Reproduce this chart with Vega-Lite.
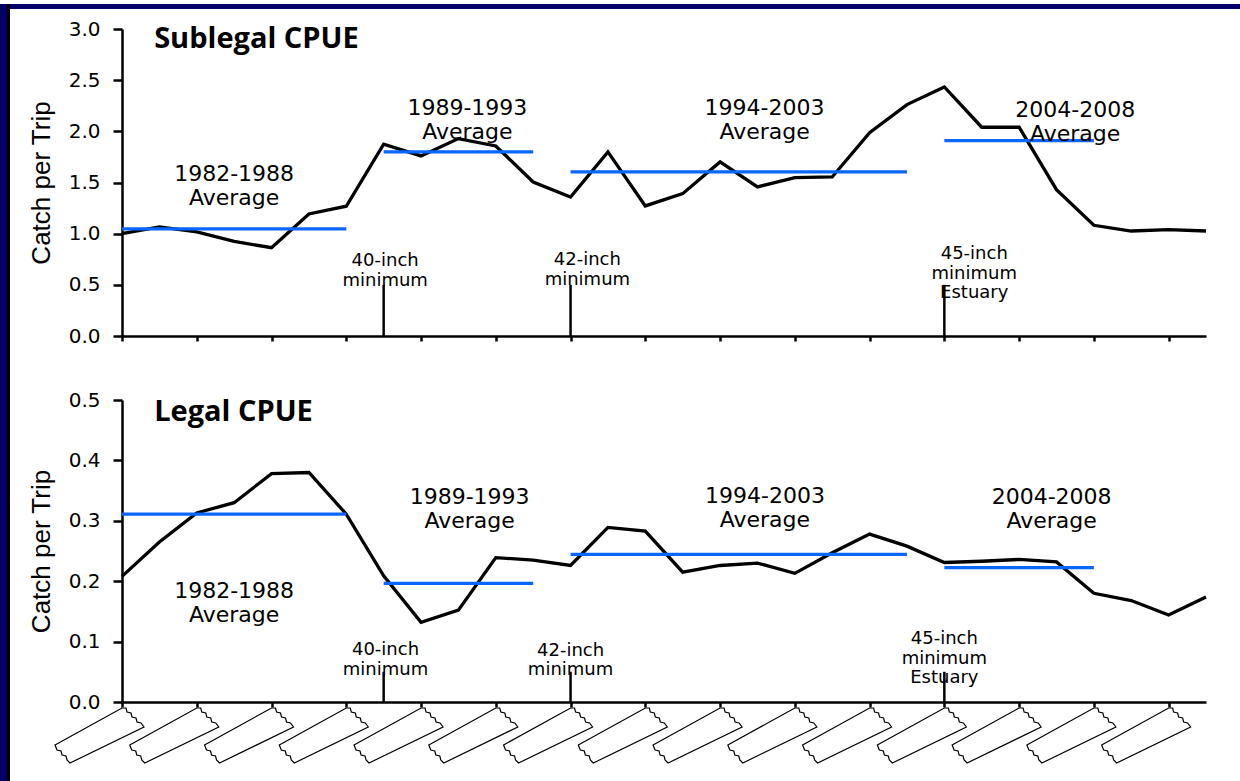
{
  "$schema": "https://vega.github.io/schema/vega-lite/v6.json",
  "background": "white",
  "padding": 0,
  "spacing": 0,
  "config": {
    "view": {"stroke": null},
    "axis": {
      "grid": false,
      "domainColor": "black",
      "domainWidth": 2.5,
      "tickColor": "black",
      "tickWidth": 2.5,
      "labelColor": "black",
      "labelFont": "DejaVu Sans",
      "labelFontSize": 20,
      "titleColor": "black"
    }
  },
  "datasets": {
    "cpue": [
      {"year": 1982, "sublegal": 1.0, "legal": 0.208},
      {"year": 1983, "sublegal": 1.066, "legal": 0.265},
      {"year": 1984, "sublegal": 1.017, "legal": 0.313},
      {"year": 1985, "sublegal": 0.925, "legal": 0.33},
      {"year": 1986, "sublegal": 0.863, "legal": 0.378},
      {"year": 1987, "sublegal": 1.193, "legal": 0.38},
      {"year": 1988, "sublegal": 1.268, "legal": 0.311},
      {"year": 1989, "sublegal": 1.874, "legal": 0.209},
      {"year": 1990, "sublegal": 1.76, "legal": 0.132},
      {"year": 1991, "sublegal": 1.929, "legal": 0.152},
      {"year": 1992, "sublegal": 1.857, "legal": 0.239},
      {"year": 1993, "sublegal": 1.505, "legal": 0.235},
      {"year": 1994, "sublegal": 1.359, "legal": 0.226},
      {"year": 1995, "sublegal": 1.799, "legal": 0.289},
      {"year": 1996, "sublegal": 1.271, "legal": 0.283},
      {"year": 1997, "sublegal": 1.391, "legal": 0.215},
      {"year": 1998, "sublegal": 1.701, "legal": 0.226},
      {"year": 1999, "sublegal": 1.457, "legal": 0.23},
      {"year": 2000, "sublegal": 1.548, "legal": 0.213},
      {"year": 2001, "sublegal": 1.554, "legal": 0.247},
      {"year": 2002, "sublegal": 1.987, "legal": 0.278},
      {"year": 2003, "sublegal": 2.261, "legal": 0.258},
      {"year": 2004, "sublegal": 2.434, "legal": 0.231},
      {"year": 2005, "sublegal": 2.04, "legal": 0.233},
      {"year": 2006, "sublegal": 2.04, "legal": 0.236},
      {"year": 2007, "sublegal": 1.43, "legal": 0.232},
      {"year": 2008, "sublegal": 1.082, "legal": 0.18},
      {"year": 2009, "sublegal": 1.026, "legal": 0.168},
      {"year": 2010, "sublegal": 1.039, "legal": 0.144},
      {"year": 2011, "sublegal": 1.026, "legal": 0.174}
    ],
    "averages": [
      {"panel": "Sublegal", "start": 1982, "end": 1988, "avg": 1.046},
      {"panel": "Sublegal", "start": 1989, "end": 1993, "avg": 1.8},
      {"panel": "Sublegal", "start": 1994, "end": 2003, "avg": 1.603},
      {"panel": "Sublegal", "start": 2004, "end": 2008, "avg": 1.91},
      {"panel": "Legal", "start": 1982, "end": 1988, "avg": 0.311},
      {"panel": "Legal", "start": 1989, "end": 1993, "avg": 0.1965},
      {"panel": "Legal", "start": 1994, "end": 2003, "avg": 0.2445},
      {"panel": "Legal", "start": 2004, "end": 2008, "avg": 0.2224}
    ],
    "markers": [
      {"year": 1989, "rule": "40-inch minimum"},
      {"year": 1994, "rule": "42-inch minimum"},
      {"year": 2004, "rule": "45-inch minimum Estuary"}
    ],
    "labels": [
      {"panel": "Sublegal", "kind": "period", "text": "1982-1988\nAverage", "year": 1985.0, "value": 1.58},
      {"panel": "Sublegal", "kind": "period", "text": "1989-1993\nAverage", "year": 1991.24, "value": 2.23},
      {"panel": "Sublegal", "kind": "period", "text": "1994-2003\nAverage", "year": 1999.19, "value": 2.23},
      {"panel": "Sublegal", "kind": "period", "text": "2004-2008\nAverage", "year": 2007.5, "value": 2.21},
      {"panel": "Sublegal", "kind": "rule", "text": "40-inch\nminimum", "year": 1989.04, "value": 0.73},
      {"panel": "Sublegal", "kind": "rule", "text": "42-inch\nminimum", "year": 1994.45, "value": 0.74},
      {"panel": "Sublegal", "kind": "rule", "text": "45-inch\nminimum\nEstuary", "year": 2004.8, "value": 0.8},
      {"panel": "Sublegal", "kind": "title", "text": "Sublegal CPUE", "year": 1982.86, "value": 2.9},
      {"panel": "Legal", "kind": "period", "text": "1982-1988\nAverage", "year": 1985.0, "value": 0.184},
      {"panel": "Legal", "kind": "period", "text": "1989-1993\nAverage", "year": 1991.3, "value": 0.339},
      {"panel": "Legal", "kind": "period", "text": "1994-2003\nAverage", "year": 1999.2, "value": 0.341},
      {"panel": "Legal", "kind": "period", "text": "2004-2008\nAverage", "year": 2006.87, "value": 0.34},
      {"panel": "Legal", "kind": "rule", "text": "40-inch\nminimum", "year": 1989.05, "value": 0.086},
      {"panel": "Legal", "kind": "rule", "text": "42-inch\nminimum", "year": 1994.0, "value": 0.085},
      {"panel": "Legal", "kind": "rule", "text": "45-inch\nminimum\nEstuary", "year": 2004.0, "value": 0.1035},
      {"panel": "Legal", "kind": "title", "text": "Legal CPUE", "year": 1982.86, "value": 0.48}
    ],
    "blank": [{"b": ""}]
  },
  "hconcat": [
    {
      "data": {"name": "blank"},
      "width": 7, "height": 781,
      "view": {"fill": "#000066", "stroke": null},
      "mark": {"type": "text", "text": ""},
      "encoding": {}
    },
    {
      "data": {"name": "blank"},
      "width": 3, "height": 781,
      "view": {"fill": "#000000", "stroke": null},
      "mark": {"type": "text", "text": ""},
      "encoding": {}
    },
    {
      "spacing": 7,
      "vconcat": [
        {
          "data": {"name": "blank"},
          "width": 1230, "height": 5,
          "view": {"fill": "#000066", "stroke": null},
          "mark": {"type": "text", "text": ""},
          "encoding": {}
        },
        {
          "spacing": 17,
          "hconcat": [
            {
              "data": {"name": "blank"},
              "width": 1, "height": 1,
              "mark": {"type": "text", "text": ""},
              "encoding": {}
            },
            {
              "spacing": 44,
              "vconcat": [
                {
                  "width": 1084,
                  "height": 307,
                  "layer": [
                    {
                      "data": {"name": "cpue"},
                      "mark": {"type": "line", "color": "black", "strokeWidth": 3.3},
                      "encoding": {
                        "x": {"field": "year", "type": "quantitative",
                          "scale": {"domain": [1982, 2011], "nice": false, "zero": false},
                          "axis": {"title": null, "labels": false, "values": [1982,1984,1986,1988,1990,1992,1994,1996,1998,2000,2002,2004,2006,2008,2010], "tickSize": 5}},
                        "y": {"field": "sublegal", "type": "quantitative",
                          "scale": {"domain": [0, 3], "nice": false},
                          "axis": {"title": "Catch per Trip", "values": [0,0.5,1,1.5,2,2.5,3], "format": ".1f", "tickSize": 9, "labelPadding": 13, "titlePadding": 14, "titleFont": "Liberation Sans", "titleFontSize": 26, "titleFontWeight": "normal"}}
                      }
                    },
                    {
                      "data": {"name": "averages"},
                      "transform": [{"filter": "datum.panel === 'Sublegal'"}],
                      "mark": {"type": "rule", "color": "#0a66ff", "strokeWidth": 3.3},
                      "encoding": {
                        "x": {"field": "start", "type": "quantitative"},
                        "x2": {"field": "end"},
                        "y": {"field": "avg", "type": "quantitative"}
                      }
                    },
                    {
                      "data": {"name": "markers"},
                      "mark": {"type": "rule", "color": "black", "strokeWidth": 2.5},
                      "encoding": {
                        "x": {"field": "year", "type": "quantitative"},
                        "y": {"datum": 0},
                        "y2": {"datum": 0.5}
                      }
                    },
                    {
                      "data": {"name": "labels"},
                      "transform": [{"filter": "datum.panel === 'Sublegal' && datum.kind === 'period'"}],
                      "mark": {"type": "text", "font": "DejaVu Sans", "fontSize": 22, "lineBreak": "\n", "lineHeight": 24, "align": "center", "baseline": "middle", "color": "black"},
                      "encoding": {
                        "x": {"field": "year", "type": "quantitative"},
                        "y": {"field": "value", "type": "quantitative"},
                        "text": {"field": "text"}
                      }
                    },
                    {
                      "data": {"name": "labels"},
                      "transform": [{"filter": "datum.panel === 'Sublegal' && datum.kind === 'rule'"}],
                      "mark": {"type": "text", "font": "DejaVu Sans", "fontSize": 18, "lineBreak": "\n", "lineHeight": 19.5, "align": "center", "baseline": "middle", "color": "black"},
                      "encoding": {
                        "x": {"field": "year", "type": "quantitative"},
                        "y": {"field": "value", "type": "quantitative"},
                        "text": {"field": "text"}
                      }
                    },
                    {
                      "data": {"name": "labels"},
                      "transform": [{"filter": "datum.panel === 'Sublegal' && datum.kind === 'title'"}],
                      "mark": {"type": "text", "font": "Open Sans", "fontWeight": "bold", "fontSize": 29, "align": "left", "baseline": "middle", "color": "black"},
                      "encoding": {
                        "x": {"field": "year", "type": "quantitative"},
                        "y": {"field": "value", "type": "quantitative"},
                        "text": {"field": "text"}
                      }
                    }
                  ]
                },
                {
                  "width": 1084,
                  "height": 302,
                  "layer": [
                    {
                      "data": {"name": "cpue"},
                      "mark": {"type": "line", "color": "black", "strokeWidth": 3.3},
                      "encoding": {
                        "x": {"field": "year", "type": "quantitative",
                          "scale": {"domain": [1982, 2011], "nice": false, "zero": false},
                          "axis": {"title": null, "labels": false, "values": [1982,1984,1986,1988,1990,1992,1994,1996,1998,2000,2002,2004,2006,2008,2010], "tickSize": 5}},
                        "y": {"field": "legal", "type": "quantitative",
                          "scale": {"domain": [0, 0.5], "nice": false},
                          "axis": {"title": "Catch per Trip", "values": [0,0.1,0.2,0.3,0.4,0.5], "format": ".1f", "tickSize": 9, "labelPadding": 13, "titlePadding": 14, "titleFont": "Liberation Sans", "titleFontSize": 26, "titleFontWeight": "normal"}}
                      }
                    },
                    {
                      "data": {"name": "averages"},
                      "transform": [{"filter": "datum.panel === 'Legal'"}],
                      "mark": {"type": "rule", "color": "#0a66ff", "strokeWidth": 3.3},
                      "encoding": {
                        "x": {"field": "start", "type": "quantitative"},
                        "x2": {"field": "end"},
                        "y": {"field": "avg", "type": "quantitative"}
                      }
                    },
                    {
                      "data": {"name": "markers"},
                      "mark": {"type": "rule", "color": "black", "strokeWidth": 2.5},
                      "encoding": {
                        "x": {"field": "year", "type": "quantitative"},
                        "y": {"datum": 0},
                        "y2": {"datum": 0.05}
                      }
                    },
                    {
                      "data": {"name": "labels"},
                      "transform": [{"filter": "datum.panel === 'Legal' && datum.kind === 'period'"}],
                      "mark": {"type": "text", "font": "DejaVu Sans", "fontSize": 22, "lineBreak": "\n", "lineHeight": 24, "align": "center", "baseline": "middle", "color": "black"},
                      "encoding": {
                        "x": {"field": "year", "type": "quantitative"},
                        "y": {"field": "value", "type": "quantitative"},
                        "text": {"field": "text"}
                      }
                    },
                    {
                      "data": {"name": "labels"},
                      "transform": [{"filter": "datum.panel === 'Legal' && datum.kind === 'rule'"}],
                      "mark": {"type": "text", "font": "DejaVu Sans", "fontSize": 18, "lineBreak": "\n", "lineHeight": 19.5, "align": "center", "baseline": "middle", "color": "black"},
                      "encoding": {
                        "x": {"field": "year", "type": "quantitative"},
                        "y": {"field": "value", "type": "quantitative"},
                        "text": {"field": "text"}
                      }
                    },
                    {
                      "data": {"name": "labels"},
                      "transform": [{"filter": "datum.panel === 'Legal' && datum.kind === 'title'"}],
                      "mark": {"type": "text", "font": "Open Sans", "fontWeight": "bold", "fontSize": 29, "align": "left", "baseline": "middle", "color": "black"},
                      "encoding": {
                        "x": {"field": "year", "type": "quantitative"},
                        "y": {"field": "value", "type": "quantitative"},
                        "text": {"field": "text"}
                      }
                    },
                    {
                      "data": {"name": "cpue"},
                      "transform": [{"filter": "datum.year % 2 === 0"}],
                      "mark": {"type": "point", "shape": "M0,6L4,6L5,10L9,11L10,15L14,16L15,20L19,21L22,25L-52,61L-55,58L-56,54L-60,53L-61,49L-65,48L-67,43Z", "size": 4, "filled": false, "color": "black", "strokeWidth": 1.2, "opacity": 1},
                      "encoding": {
                        "x": {"field": "year", "type": "quantitative"},
                        "y": {"datum": 0}
                      }
                    }
                  ]
                }
              ]
            }
          ]
        }
      ]
    }
  ]
}
